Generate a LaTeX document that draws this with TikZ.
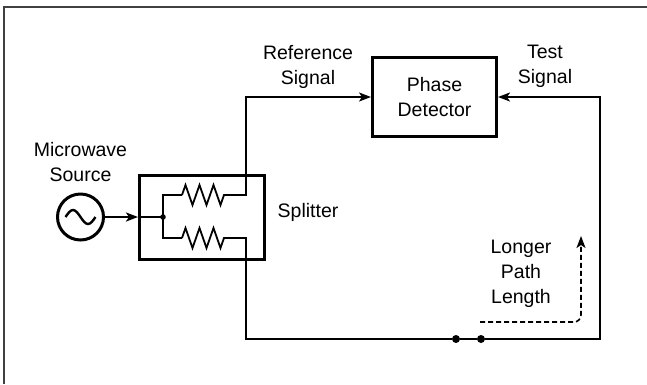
\documentclass[tikz,border=0pt]{standalone}
\usepackage{fontspec}
\setmainfont{Liberation Sans}
\usetikzlibrary{arrows.meta,shapes,decorations.pathmorphing}

\begin{document}
\begin{tikzpicture}[>={Stealth[length=12pt,width=9pt,inset=3pt]},x=1pt,y=-1pt,
    font=\fontsize{19.5}{25}\selectfont]

  \tikzstyle{block}=[rectangle,draw=black,line width=3pt,inner sep=0pt,align=center]
  \tikzstyle{source}=[circle,draw=black,line width=3pt,inner sep=0pt,
    minimum size=46pt]
  \tikzstyle{txt}=[align=center,inner sep=0pt]
  \tikzstyle{dot}=[circle,fill=black,inner sep=0pt,minimum size=8pt]

  %% \draw [help lines,step=20] (0,0) grid (647,384);
  \useasboundingbox (0,0) rectangle (647,384);
  \draw [black!75,line width=1.4pt] (4,384) -- (4,7) -- (647,7);

  \node  (pd)    at (434.5,97)  [block,minimum width=124pt,minimum height=79pt]
         {Phase\\Detector};
  \node  (split) at (202,217)   [block,minimum width=125pt,minimum height=84pt] {};
  \node  (src)   at (80.5,217)  [source] {};

  \node  (srctxt)   at (80.5,162.5) [txt] {Microwave\\Source};
  \node  (splittxt) at (308,212)    [txt] {Splitter};
  \node  (reftxt)   at (308,66.5)   [txt] {Reference\\Signal};
  \node  (testtxt)  at (545,66.5)   [txt] {Test\\Signal};
  \node  (longtxt)  at (521,274)    [txt] {Longer\\Path\\Length};

  \node  (d1) at (456,339) [dot] {};
  \node  (d2) at (481,339) [dot] {};

  \coordinate (j)   at (163,217);
  \coordinate (r1a) at (182,195);
  \coordinate (r1b) at (226,195);
  \coordinate (r2a) at (182,238);
  \coordinate (r2b) at (226,238);
  \coordinate (up)  at (246,97);
  \coordinate (low) at (246,339);
  \coordinate (far) at (600,339);
  \coordinate (l1)  at (480,322);
  \coordinate (l2)  at (581,236);

  \tikzstyle{wire}=[line width=1.8pt,line join=miter]
  \tikzstyle{feed}=[->,line width=2.6pt]
  \tikzstyle{res}=[wire,decorate,decoration={zigzag,segment length=14pt,amplitude=10pt}]
  \tikzstyle{hint}=[->,line width=1.6pt,dash pattern=on 5pt off 3pt,rounded corners=7pt]

  % sine wave inside the source
  \draw [line width=2.4pt] (src.center) ++(-15,0) sin ++(7.5,-7) cos ++(7.5,7)
        sin ++(7.5,7) cos ++(7.5,-7);

  \draw [feed] (src) -- (split.west);
  \draw [wire] (split.west) -- (j);
  \draw [wire] (r1a) -| (j) |- (r2a);
  \fill (j) circle (2.8pt);
  \draw [res]  (r1a) -- (r1b);
  \draw [res]  (r2a) -- (r2b);

  \draw [wire,->] (r1b) -| (up) -- (pd.west);
  \draw [wire] (r2b) -| (low) -- (d1) -- (d2);
  \draw [wire,->] (d2) -- (far) |- (pd.east);

  \draw [hint] (l1) -| (l2);

\end{tikzpicture}
\end{document}
